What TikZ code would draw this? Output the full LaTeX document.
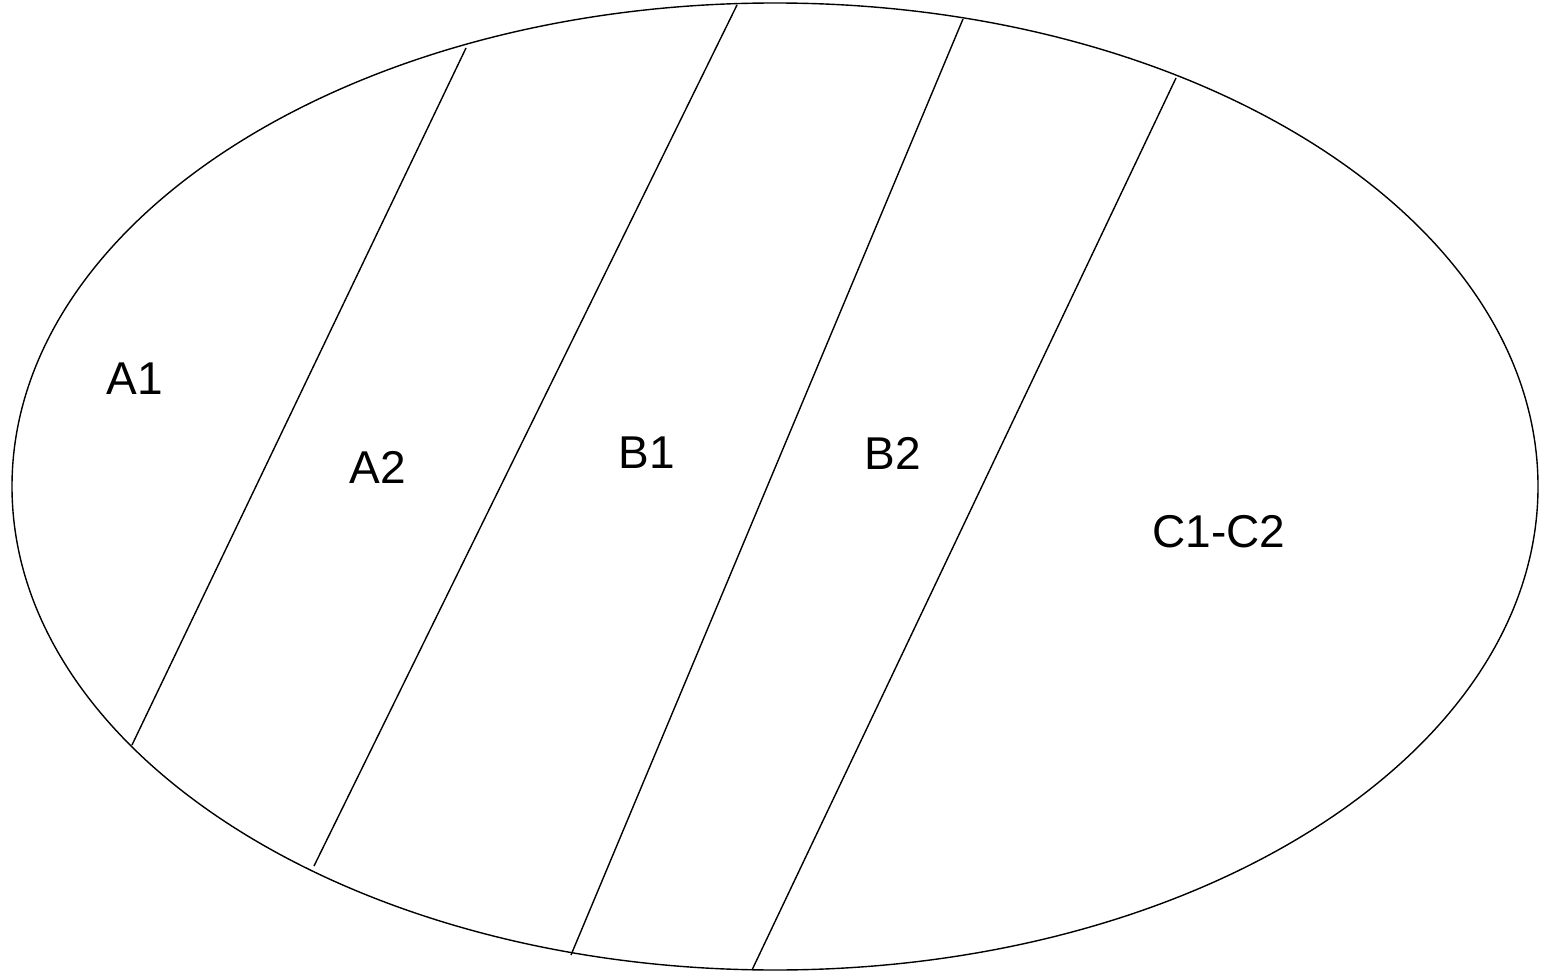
\documentclass[tikz,border=0pt]{standalone}
\usepackage{fontspec}
\setmainfont{Liberation Sans}
\begin{document}
\begin{tikzpicture}[x=1pt,y=-1pt,
  outline/.style={draw=black,line width=1.4pt},
  divider/.style={draw=black,line width=1.4pt},
  zone/.style={font=\fontsize{46}{54}\selectfont,inner sep=0pt}]
\useasboundingbox (0,0) rectangle (1544,973);
% outer ellipse
\draw[outline] (775,486.5) ellipse [x radius=763, y radius=483.5];
% end points of the dividing lines
\coordinate (d1t) at (466,48);   \coordinate (d1b) at (132,745);
\coordinate (d2t) at (737,5);    \coordinate (d2b) at (314,866);
\coordinate (d3t) at (963,19);   \coordinate (d3b) at (571,955);
\coordinate (d4t) at (1176,78);  \coordinate (d4b) at (752,970);
\draw[divider] (d1t) -- (d1b);
\draw[divider] (d2t) -- (d2b);
\draw[divider] (d3t) -- (d3b);
\draw[divider] (d4t) -- (d4b);
% zone labels
\node[zone] (a1) at (135,379) {A1};
\node[zone] (a2) at (378,467) {A2};
\node[zone] (b1) at (647,453) {B1};
\node[zone] (b2) at (893,453) {B2};
\node[zone] (c) at (1219,532) {C1-C2};
\end{tikzpicture}
\end{document}
